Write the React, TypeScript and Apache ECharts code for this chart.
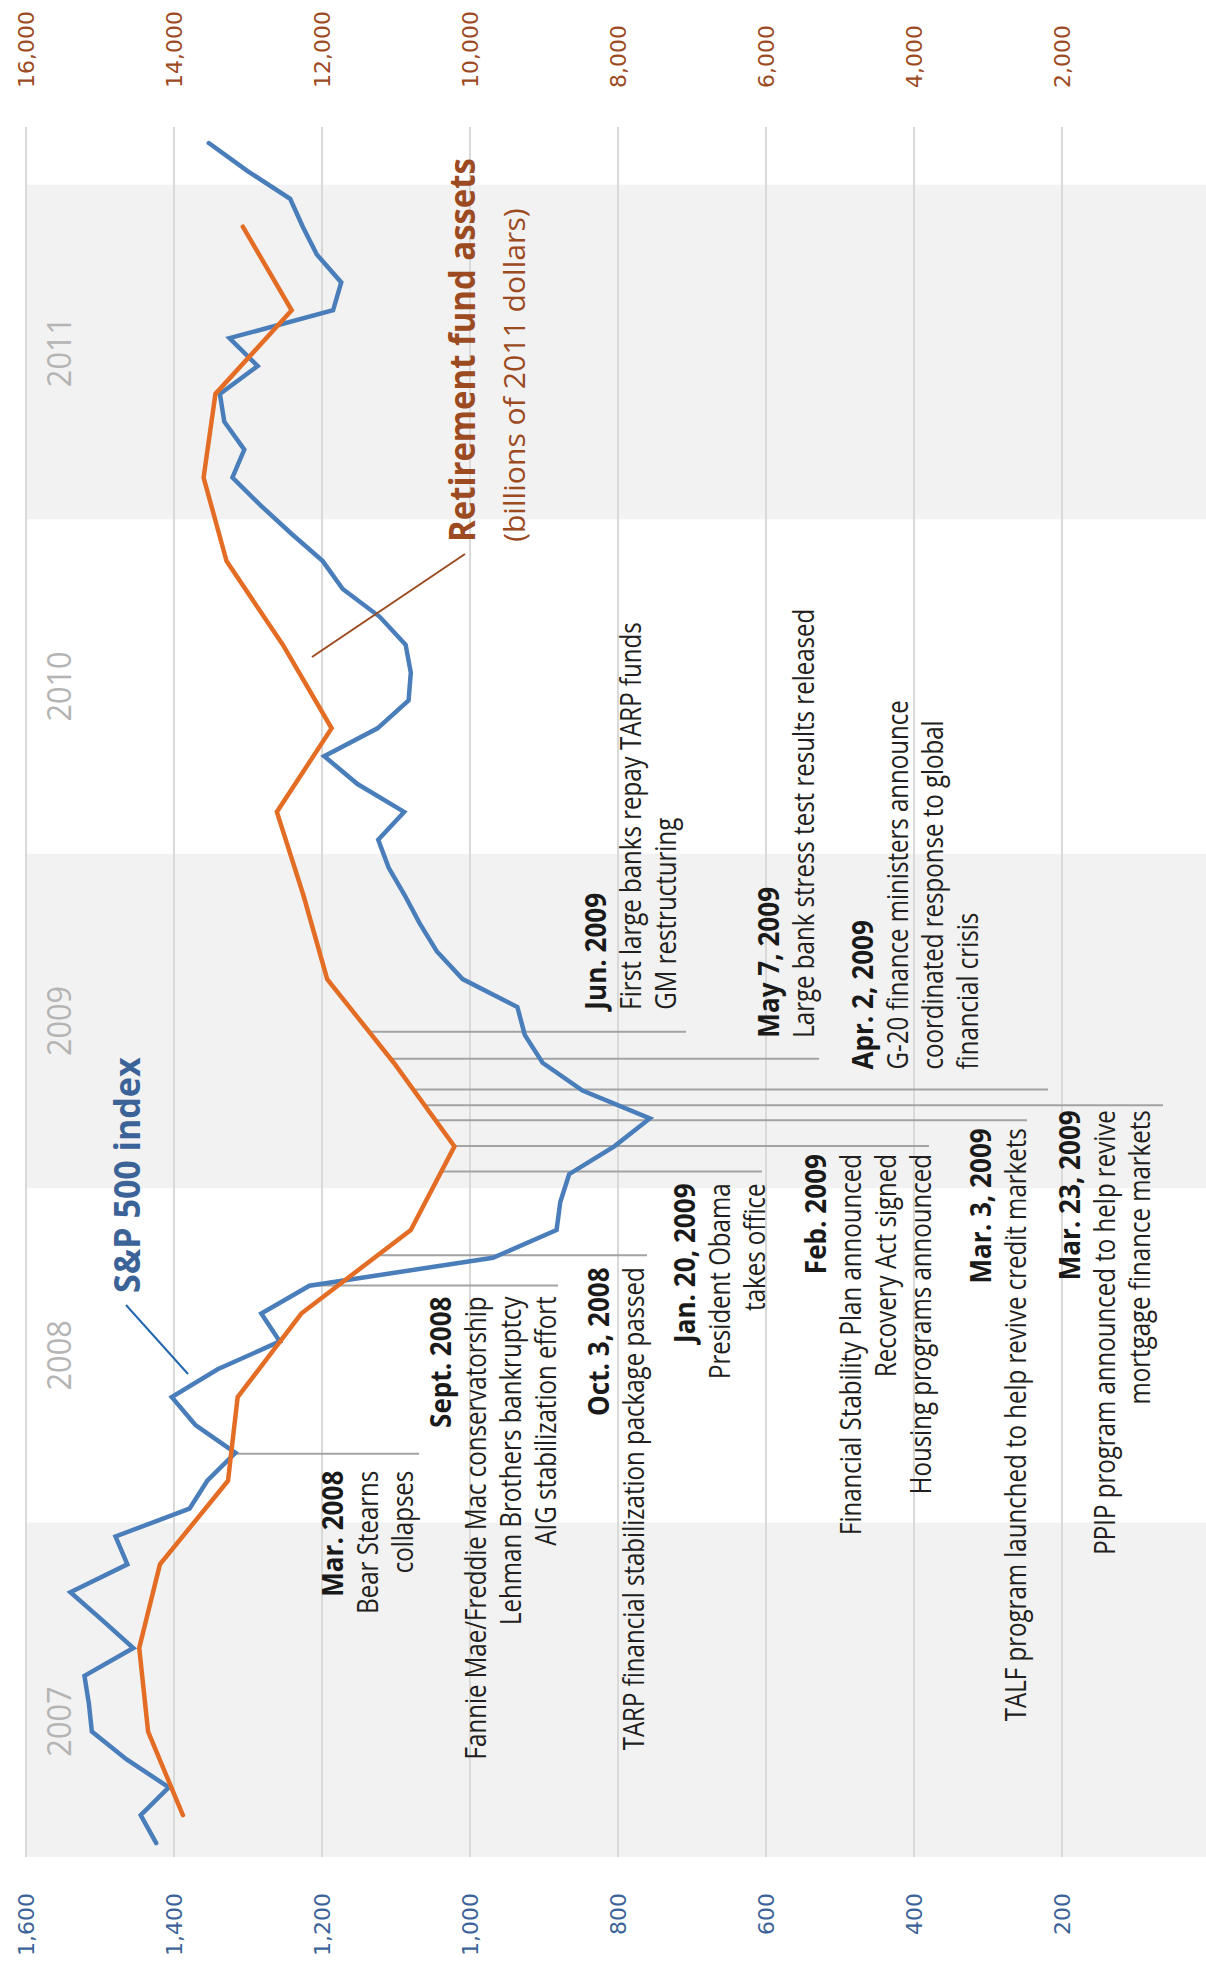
import React, { useEffect, useRef } from "react";
import * as echarts from "echarts";

// ---------------- data ----------------
// S&P 500 index, monthly, Jan 2007 – Feb 2012
const spStartYear = 2007;
const spMonthly: number[] = [
  1424, 1445, 1407, 1464, 1511, 1515, 1521, 1455, 1497, 1540, 1463, 1479,
  1379, 1355, 1317, 1371, 1403, 1341, 1257, 1282, 1217, 969, 883, 878,
  866, 805, 757, 848, 902, 926, 936, 1010, 1045, 1068, 1088, 1110,
  1124, 1089, 1152, 1197, 1125, 1083, 1080, 1087, 1122, 1172, 1199, 1242,
  1283, 1321, 1305, 1332, 1338, 1287, 1325, 1185, 1174, 1207, 1226, 1243,
  1301, 1353,
];
// Retirement fund assets (billions of 2011 dollars), quarterly, 2007Q1 – 2011Q4
const retirementQuarterly: number[] = [
  13880, 14350, 14470, 14190,
  13270, 13140, 12280, 10800,
  10210, 11030, 11930, 12250,
  12610, 11870, 12530, 13290,
  13600, 13440, 12410, 13070,
];
const yearLabels = ["2007", "2008", "2009", "2010", "2011"];
const yearLabelTimes = [2007.405, 2008.5, 2009.5, 2010.5, 2011.5];
const shadedYears = [2007, 2009, 2011];

const eventTimes = [2008.206, 2008.709, 2008.799, 2009.05, 2009.126, 2009.203, 2009.248, 2009.295, 2009.387, 2009.468];
const eventTitles = [
  "Mar. 2008", "Sept. 2008", "Oct. 3, 2008", "Jan. 20, 2009", "Feb. 2009",
  "Mar. 3, 2009", "Mar. 23, 2009", "Apr. 2, 2009", "May 7, 2009", "Jun. 2009",
];
const eventLines = [
  ["Bear Stearns", "collapses"],
  ["Fannie Mae/Freddie Mac conservatorship", "Lehman Brothers bankruptcy", "AIG stabilization effort"],
  ["TARP financial stabilization package passed"],
  ["President Obama", "takes office"],
  ["Financial Stability Plan announced", "Recovery Act signed", "Housing programs announced"],
  ["TALF program launched to help revive credit markets"],
  ["PPIP program announced to help revive", "mortgage finance markets"],
  ["G-20 finance ministers announce", "coordinated response to global", "financial crisis"],
  ["Large bank stress test results released"],
  ["First large banks repay TARP funds", "GM restructuring"],
];

// ---------------- layout (unrotated chart coordinates) ----------------
const PAGE_W = 1206;
const PAGE_H = 1972;
const CW = 1972;
const CH = 1214;
const X_MIN = 2007;
const X_MAX = 2012.173;

// side "L": text to the left of the leader (right aligned); "R": text to the right
const eventLayout = [
  { side: "L", gap: 17, base: 343, end: 419 },
  { side: "L", gap: 11, base: 451, end: 558 },
  { side: "L", gap: 12, base: 609, end: 647 },
  { side: "L", gap: 12, base: 695.5, end: 762 },
  { side: "L", gap: 8, base: 826.6, end: 929 },
  { side: "L", gap: 8, base: 991.7, end: 1027 },
  { side: "L", gap: 5, base: 1080.7, end: 1163 },
  { side: "R", gap: 20, base: 873.4, end: 1048 },
  { side: "R", gap: 21, base: 779.5, end: 819 },
  { side: "R", gap: 22, base: 606.7, end: 686 },
];
const LINE_PITCH = 35;
const ANN_SIZE = 29;
const REG_SX = 0.83;
const BOLD_SX = 0.9;
const CENTRAL = 0.388;

const SP_COLOR = "#4a7ebb";
const RF_COLOR = "#e46d25";
const SP_TEXT = "#3b6397";
const RF_TEXT = "#9c4a1f";

function interp(ts: number[], vs: number[], t: number) {
  if (t <= ts[0]) return vs[0];
  for (let i = 1; i < ts.length; i++) {
    if (t <= ts[i]) {
      const f = (t - ts[i - 1]) / (ts[i] - ts[i - 1]);
      return vs[i - 1] + f * (vs[i] - vs[i - 1]);
    }
  }
  return vs[vs.length - 1];
}

function textEl(text: string, x: number, baseline: number, o: any) {
  const size = o.size;
  return {
    type: "text",
    x,
    y: baseline - CENTRAL * size,
    scaleX: o.sx ?? 1,
    z: 5,
    silent: true,
    style: {
      text,
      fontFamily: o.family || "Open Sans",
      fontSize: size,
      fontWeight: o.weight || 400,
      fill: o.color || "#231f20",
      align: o.align || "left",
      verticalAlign: "middle",
    },
  };
}

const fmt = (v: number) => (v === 0 ? "" : v.toLocaleString("en-US"));

export default function App() {
  const ref = useRef<HTMLDivElement>(null);

  useEffect(() => {
    const el = ref.current;
    if (!el) return;
    const chart = echarts.init(el, null, { renderer: "svg", width: CW, height: CH });

    const spTimes = spMonthly.map((_, i) => spStartYear + (i + 0.5) / 12);
    const rfTimes = retirementQuarterly.map((_, i) => 2007 + (i + 0.5) / 4);

    chart.setOption({
      animation: false,
      backgroundColor: "#ffffff",
      grid: { left: 115, right: 127, top: 26, bottom: 4, containLabel: false },
      xAxis: {
        type: "value",
        min: X_MIN,
        max: X_MAX,
        show: false,
        splitLine: { show: false },
      },
      yAxis: [
        {
          type: "value",
          min: 0,
          max: 1600,
          interval: 200,
          position: "left",
          z: 1,
          axisLine: { show: false },
          axisTick: { show: false },
          splitLine: { show: true, lineStyle: { color: "#d9d9d9", width: 2 } },
          axisLabel: {
            margin: 36,
            fontFamily: "DejaVu Sans",
            fontSize: 22,
            color: SP_TEXT,
            formatter: fmt,
          },
        },
        {
          type: "value",
          min: 0,
          max: 16000,
          interval: 2000,
          position: "right",
          z: 1,
          axisLine: { show: false },
          axisTick: { show: false },
          splitLine: { show: false },
          axisLabel: {
            margin: 39,
            fontFamily: "DejaVu Sans",
            fontSize: 22,
            color: RF_TEXT,
            formatter: fmt,
          },
        },
      ],
      series: [
        {
          type: "line",
          data: [[2007, 0]],
          symbol: "none",
          silent: true,
          z: 0,
          lineStyle: { opacity: 0 },
          markArea: {
            silent: true,
            z: 0,
            itemStyle: { color: "#f2f2f2" },
            data: shadedYears.map((y) => [{ xAxis: y }, { xAxis: y + 1 }]),
          },
        },
        {
          name: "S&P 500 index",
          type: "line",
          yAxisIndex: 0,
          data: spTimes.map((t, i) => [t, spMonthly[i]]),
          symbol: "none",
          z: 3,
          lineStyle: { color: SP_COLOR, width: 4.5, join: "miter", cap: "round" },
        },
        {
          name: "Retirement fund assets",
          type: "line",
          yAxisIndex: 1,
          data: rfTimes.map((t, i) => [t, retirementQuarterly[i]]),
          symbol: "none",
          z: 3,
          lineStyle: { color: RF_COLOR, width: 4.5, join: "miter", cap: "round" },
        },
      ],
    });

    const spPx = (t: number, v: number) => chart.convertToPixel({ seriesIndex: 1 }, [t, v]) as number[];
    const rfPx = (t: number, v: number) => chart.convertToPixel({ seriesIndex: 2 }, [t, v]) as number[];

    const elements: any[] = [];

    // year labels
    yearLabels.forEach((lab, i) => {
      const p = spPx(yearLabelTimes[i], 1600);
      elements.push(
        textEl(lab, p[0], 58.5 + CENTRAL * 33, { size: 33, sx: 0.93, color: "#b4b4b4", align: "center" })
      );
    });

    // event annotations
    eventTimes.forEach((t, k) => {
      const lay = eventLayout[k];
      const a = spPx(t, interp(spTimes, spMonthly, t));
      const b = rfPx(t, interp(rfTimes, retirementQuarterly, t));
      const x = a[0];
      const yStart = Math.min(a[1], b[1]);
      elements.push({
        type: "line",
        z: 2,
        silent: true,
        shape: { x1: x, y1: yStart, x2: x, y2: lay.end },
        style: { stroke: "#a3a3a3", lineWidth: 2 },
      });
      const left = lay.side === "L";
      const tx = left ? x - lay.gap : x + lay.gap;
      const align = left ? "right" : "left";
      elements.push(
        textEl(eventTitles[k], tx, lay.base, { size: ANN_SIZE, weight: 700, sx: BOLD_SX, align, color: "#1a1a1a" })
      );
      eventLines[k].forEach((ln, j) => {
        elements.push(
          textEl(ln, tx, lay.base + LINE_PITCH * (j + 1), { size: ANN_SIZE, weight: 400, sx: REG_SX, align, color: "#231f20" })
        );
      });
    });

    // series labels
    elements.push(textEl("S&P 500 index", 679, 140, { size: 36, weight: 700, sx: 0.945, color: SP_TEXT }));
    elements.push({
      type: "line",
      z: 4,
      silent: true,
      shape: { x1: 667, y1: 126, x2: 598, y2: 188 },
      style: { stroke: "#2467ad", lineWidth: 2 },
    });
    elements.push(textEl("Retirement fund assets", 1430, 475, { size: 35, weight: 700, sx: 0.94, color: RF_TEXT }));
    elements.push(textEl("(billions of 2011 dollars)", 1430, 525, { size: 29, weight: 400, sx: 1.04, color: RF_TEXT }));
    elements.push({
      type: "line",
      z: 4,
      silent: true,
      shape: { x1: 1315, y1: 312, x2: 1418, y2: 465 },
      style: { stroke: "#9c4a1f", lineWidth: 2 },
    });

    chart.setOption({ graphic: { elements } });

    return () => {
      chart.dispose();
    };
  }, []);

  return (
    <div
      style={{
        position: "absolute",
        left: 0,
        top: 0,
        width: PAGE_W,
        height: PAGE_H,
        overflow: "hidden",
        background: "#ffffff",
      }}
    >
      <div
        ref={ref}
        style={{
          position: "absolute",
          left: 0,
          top: 0,
          width: CW,
          height: CH,
          transformOrigin: "0 0",
          transform: `translateY(${PAGE_H}px) rotate(-90deg)`,
        }}
      />
    </div>
  );
}
